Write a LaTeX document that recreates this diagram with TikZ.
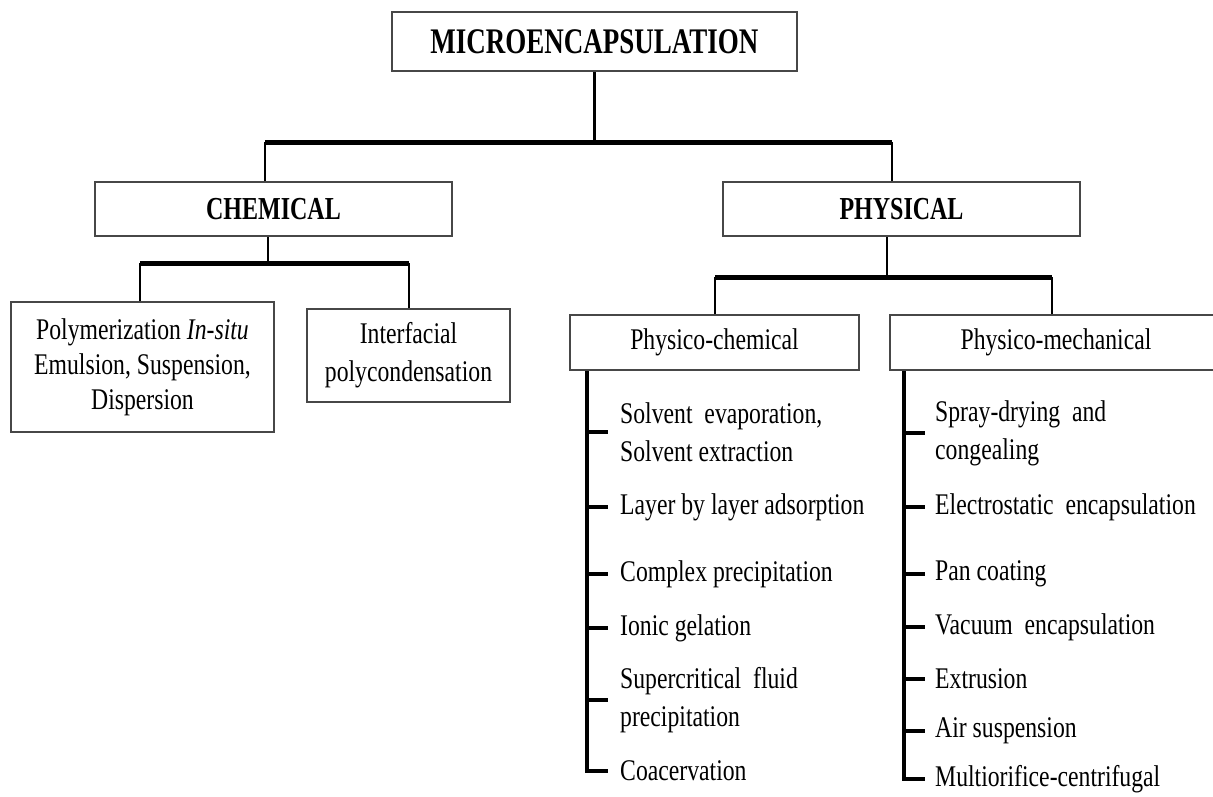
\documentclass[tikz,border=0pt]{standalone}
\usepackage{fontspec}
\setmainfont{Liberation Serif}[FakeStretch=0.79]
\newfontfamily\headfont{Liberation Serif}[FakeStretch=0.75]
\newcommand\fsz[2]{\fontsize{#1}{#2}\selectfont}
\begin{document}
\begin{tikzpicture}[x=1pt,y=-1pt,
  box/.style={draw=black!72, line width=2pt, inner sep=0pt, align=center, fill=white},
  head/.style={font=\headfont\bfseries\fsz{32}{36}},
  conn/.style={line width=2.6pt},
  bar/.style={line width=5pt},
  tick/.style={line width=4pt},
  spine/.style={line width=3.2pt},
  item/.style={anchor=west, align=left, inner sep=0pt, font=\fsz{30}{38}}]
\useasboundingbox (0,0) rectangle (1213,796);
% level 0
\node[box, head, minimum width=405pt, minimum height=59pt, font=\headfont\bfseries\fsz{36}{40}] (top) at (594.5,41.5) {MICROENCAPSULATION};
% level 1
\node[box, head, minimum width=357pt, minimum height=54pt] (chem) at (273.5,209) {CHEMICAL};
\node[box, head, minimum width=357pt, minimum height=54pt] (phys) at (901.5,209) {PHYSICAL};
% level 2
\node[box, minimum width=263pt, minimum height=130pt, font=\fsz{30}{35}] (poly) at (142.5,367) {Polymerization \textit{In-situ}\\Emulsion, Suspension,\\Dispersion};
\node[box, minimum width=203pt, minimum height=93pt, font=\fsz{30}{38}] (inter) at (408.5,355.5) {Interfacial\\polycondensation};
\node[box, minimum width=289pt, minimum height=55pt, font=\fsz{30}{34}] (pc) at (714.5,342.5) {Physico-chemical};
\node[box, minimum width=332pt, minimum height=55pt, font=\fsz{30}{34}] (pm) at (1056,342.5) {Physico-mechanical};
% connectors level 0 -> 1
\coordinate (j1) at (594.5,142);
\coordinate (b1L) at (265,142);
\coordinate (b1R) at (892,142);
\draw[conn] (top.south) -- (j1);
\draw[conn] (b1L |- chem.north) -- (b1L);
\draw[conn] (b1R |- phys.north) -- (b1R);
\draw[bar] (b1L) -- (b1R);
% chem -> children
\coordinate (j2) at (268,263);
\coordinate (b2L) at (140,263);
\coordinate (b2R) at (409,263);
\draw[conn] (j2 |- chem.south) -- (j2);
\draw[conn] (b2L |- poly.north) -- (b2L);
\draw[conn] (b2R |- inter.north) -- (b2R);
\draw[bar] (b2L) -- (b2R);
% phys -> children
\coordinate (j3) at (887,277);
\coordinate (b3L) at (715,277);
\coordinate (b3R) at (1052,277);
\draw[conn] (j3 |- phys.south) -- (j3);
\draw[conn] (b3L |- pc.north) -- (b3L);
\draw[conn] (b3R |- pm.north) -- (b3R);
\draw[bar] (b3L) -- (b3R);
% physico-chemical list
\node[item] (c1) at (620,432) {Solvent\ \ evaporation,\\Solvent extraction};
\node[item] (c2) at (620,507) {Layer by layer adsorption};
\node[item] (c3) at (620,574) {Complex precipitation};
\node[item] (c4) at (620,628) {Ionic gelation};
\node[item] (c5) at (620,700) {Supercritical\ \ fluid\\precipitation};
\node[item] (c6) at (620,771) {Coacervation};
\coordinate (pcs) at (587,370);
\draw[spine] (pcs |- pc.south) -- (pcs |- c6.west) -- ([xshift=-12pt]c6.west);
\foreach \i in {c1,c2,c3,c4,c5}
  \draw[tick] (pcs |- \i.west) -- ([xshift=-12pt]\i.west);
% physico-mechanical list
\node[item] (m1) at (935,433) {Spray-drying\ \ and\\congealing};
\node[item] (m2) at (935,507) {Electrostatic\ \ encapsulation};
\node[item] (m3) at (935,574) {Pan coating};
\node[item] (m4) at (935,627) {Vacuum\ \ encapsulation};
\node[item] (m5) at (935,679) {Extrusion};
\node[item] (m6) at (935,731) {Air suspension};
\node[item] (m7) at (935,779) {Multiorifice-centrifugal};
\coordinate (pms) at (904,370);
\draw[spine] (pms |- pm.south) -- (pms |- m7.west) -- ([xshift=-10pt]m7.west);
\foreach \i in {m1,m2,m3,m4,m5,m6}
  \draw[tick] (pms |- \i.west) -- ([xshift=-10pt]\i.west);
\end{tikzpicture}
\end{document}
